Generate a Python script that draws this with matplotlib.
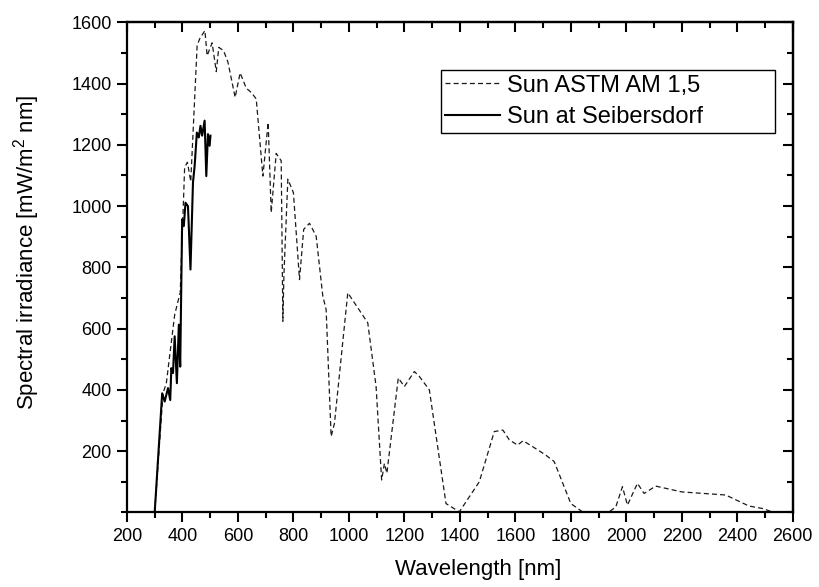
import numpy as np
import matplotlib.pyplot as plt
from matplotlib.ticker import MultipleLocator

plt.rcParams['font.family'] = ['Liberation Sans', 'DejaVu Sans']
plt.rcParams['mathtext.default'] = 'regular'

# ASTM AM 1,5 reference spectrum (nm, mW/m^2 nm)
astm_wl = [300, 330, 342, 372, 384, 392, 408, 418, 430, 453, 462, 481, 489, 507, 522,
           531, 548, 564, 590, 608, 630, 648, 666, 690, 709, 720, 738, 756, 762, 766,
           780, 800, 822, 837, 858, 882, 906, 918, 936, 948, 996, 1068, 1098, 1118,
           1128, 1137, 1178, 1200, 1236, 1254, 1290, 1350, 1398, 1470, 1524, 1555,
           1578, 1608, 1628, 1662, 1710, 1740, 1800, 1842, 1938, 1962, 1986, 2004,
           2040, 2064, 2106, 2200, 2358, 2442, 2490, 2532, 2600]
astm_irr = [0, 389, 422, 645, 689, 717, 1127, 1143, 1080, 1524, 1546, 1573, 1491, 1533, 1439,
            1518, 1508, 1470, 1355, 1435, 1385, 1371, 1350, 1098, 1273, 979, 1172, 1148, 624, 780,
            1088, 1044, 760, 924, 944, 902, 706, 662, 248, 291, 717, 619, 411, 106,
            160, 128, 439, 411, 460, 444, 400, 29, 2, 100, 264, 269,
            237, 220, 234, 215, 187, 166, 29, 2, 2, 18, 84, 24,
            95, 62, 86, 67, 57, 21, 13, 0, 0]

# measured spectrum at Seibersdorf
seib_wl = [300, 327, 336, 348, 356, 360, 366, 372, 380, 387, 392, 399, 405, 411, 420,
           429, 438, 444, 452, 459, 465, 471, 480, 486, 492, 498, 501]
seib_irr = [0, 389, 362, 406, 367, 471, 455, 575, 422, 613, 476, 957, 935, 1011, 1000,
            793, 1077, 1131, 1240, 1224, 1262, 1230, 1279, 1098, 1235, 1197, 1230]

fig = plt.figure(figsize=(8.19, 5.87), dpi=100)
ax = fig.add_axes([0.155, 0.127, 0.813, 0.835])

ax.plot(astm_wl, astm_irr, color='#1a1a1a', lw=0.9, linestyle=(0, (4, 2.5)),
        label='Sun ASTM AM 1,5')
ax.plot(seib_wl, seib_irr, color='black', lw=1.5, label='Sun at Seibersdorf')

ax.set_xlim(200, 2600)
ax.set_ylim(0, 1600)
ax.xaxis.set_major_locator(MultipleLocator(200))
ax.xaxis.set_minor_locator(MultipleLocator(100))
ax.set_yticks(np.arange(200, 1601, 200))
ax.yaxis.set_minor_locator(MultipleLocator(100))
ax.tick_params(which='major', direction='out', length=7, width=1.5, labelsize=13, pad=4)
ax.tick_params(which='minor', direction='out', length=4, width=1.5)
for s in ax.spines.values():
    s.set_linewidth(1.6)

# top and right axes with inward ticks
top = ax.secondary_xaxis('top')
top.xaxis.set_major_locator(MultipleLocator(200))
top.xaxis.set_minor_locator(MultipleLocator(100))
top.tick_params(which='major', direction='in', length=7, width=1.5, labeltop=False)
top.tick_params(which='minor', direction='in', length=4, width=1.5)
top.spines['top'].set_linewidth(1.6)
right = ax.secondary_yaxis('right')
right.set_yticks(np.arange(200, 1601, 200))
right.yaxis.set_minor_locator(MultipleLocator(100))
right.tick_params(which='major', direction='in', length=7, width=1.5, labelright=False)
right.tick_params(which='minor', direction='in', length=4, width=1.5)
right.spines['right'].set_linewidth(1.6)

ax.set_xlabel('Wavelength [nm]', fontsize=16)
ax.set_ylabel('Spectral irradiance [mW/m$^2$ nm]', fontsize=16)
ax.xaxis.set_label_coords(0.527, -0.095)
ax.yaxis.set_label_coords(-0.127, 0.531)

leg = ax.legend(loc='upper left', bbox_to_anchor=(0.471, 0.803, 0.503, 0.1), mode='expand',
                fontsize=17, fancybox=False, framealpha=1, edgecolor='black',
                handlelength=2.3, handletextpad=0.3, borderpad=0.2,
                labelspacing=0.4, borderaxespad=0)
leg.get_frame().set_linewidth(1.0)

plt.savefig('out.png', dpi=100)
